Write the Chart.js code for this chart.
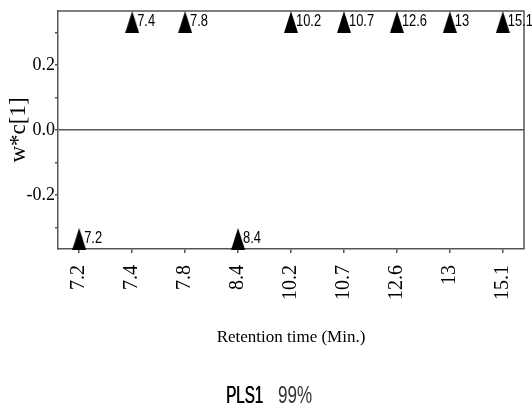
<!DOCTYPE html>
<html>
<head>
<meta charset="utf-8">
<script src="https://cdn.jsdelivr.net/npm/chart.js@4.4.1/dist/chart.umd.min.js"></script>
<style>
  html, body { margin: 0; padding: 0; background: #fff; }
  canvas { display: block; }
</style>
</head>
<body>
<canvas id="chart" width="532" height="418"></canvas>
<script>
// retention times (x categories, also used as point labels)
const retentionTimes = ['7.2', '7.4', '7.8', '8.4', '10.2', '10.7', '12.6', '13', '15.1'];
// w*c[1] loadings
const loadings = [-0.335, 0.332, 0.332, -0.335, 0.332, 0.332, 0.332, 0.332, 0.332];
// y ticks (every 0.1, only some are labelled)
const yTicks = [-0.3, -0.2, -0.1, 0, 0.1, 0.2, 0.3];
const yLabelled = [-0.2, 0, 0.2];
const footName = 'PLS1';
const footValue = '99%';

const serif = '"Liberation Serif", "Times New Roman", serif';
const sans = '"Liberation Sans", Arial, sans-serif';
const lineCol = '#555';

// draw text squeezed horizontally (the original looks condensed)
const narrowText = (ctx, text, x, y, sx) => {
  ctx.save();
  ctx.translate(x, y);
  ctx.scale(sx, 1);
  ctx.fillText(text, 0, 0);
  ctx.restore();
};

// tall black triangle used as point style
const tri = document.createElement('canvas');
tri.width = 14;
tri.height = 22;
const tctx = tri.getContext('2d');
tctx.fillStyle = '#000';
tctx.beginPath();
tctx.moveTo(7, 0);
tctx.lineTo(14, 22);
tctx.lineTo(0, 22);
tctx.closePath();
tctx.fill();

// top + right edge of the plot box
const framePlugin = {
  id: 'frame',
  beforeDatasetsDraw(chart) {
    const { ctx, chartArea: a } = chart;
    ctx.save();
    ctx.strokeStyle = lineCol;
    ctx.lineWidth = 1.5;
    ctx.beginPath();
    ctx.moveTo(a.left, a.top);
    ctx.lineTo(a.right, a.top);
    ctx.lineTo(a.right, a.bottom);
    ctx.stroke();
    ctx.restore();
  }
};

// label next to every triangle
const pointLabels = {
  id: 'pointLabels',
  afterDatasetsDraw(chart) {
    const { ctx } = chart;
    const meta = chart.getDatasetMeta(0);
    ctx.save();
    ctx.font = '17px ' + sans;
    ctx.fillStyle = '#000';
    ctx.textAlign = 'left';
    ctx.textBaseline = 'alphabetic';
    meta.data.forEach((pt, i) => {
      narrowText(ctx, retentionTimes[i], pt.x + 5, pt.y + 4, 0.76);
    });
    ctx.restore();
  }
};

// "PLS1  99%" caption under the chart
const footer = {
  id: 'footer',
  afterDraw(chart) {
    const { ctx, width, height } = chart;
    ctx.save();
    ctx.textBaseline = 'alphabetic';
    ctx.textAlign = 'left';
    ctx.font = '23px ' + sans;
    const s1 = 0.66, s2 = 0.74;
    const w1 = ctx.measureText(footName).width * s1;
    const w2 = ctx.measureText(footValue).width * s2;
    const gap = 15;
    const x = width / 2 + 3 - (w1 + gap + w2) / 2;
    const y = height - 15;
    ctx.fillStyle = '#000';
    narrowText(ctx, footName, x, y, s1);
    narrowText(ctx, footName, x + 0.5, y, s1); // a bit heavier
    ctx.fillStyle = '#333';
    narrowText(ctx, footValue, x + w1 + gap, y, s2);
    ctx.restore();
  }
};

new Chart(document.getElementById('chart'), {
  type: 'scatter',
  data: {
    datasets: [{
      data: loadings.map((v, i) => ({ x: i, y: v })),
      pointStyle: tri,
      pointRadius: 8,
      pointHoverRadius: 8,
      backgroundColor: '#000',
      borderWidth: 0,
      clip: false
    }]
  },
  options: {
    responsive: false,
    animation: false,
    layout: { padding: { top: 11, right: 3, bottom: 60, left: 0 } },
    plugins: {
      legend: { display: false },
      tooltip: { enabled: false }
    },
    scales: {
      x: {
        type: 'linear',
        min: -0.4,
        max: 8.4,
        afterBuildTicks: s => { s.ticks = retentionTimes.map((_, i) => ({ value: i })); },
        afterFit: s => { s.height = 109; s.paddingLeft = 0; s.paddingRight = 0; },
        grid: { drawOnChartArea: false, tickLength: 4, tickColor: lineCol, lineWidth: 1.5 },
        border: { color: lineCol, width: 1.5 },
        ticks: {
          minRotation: 90,
          maxRotation: 90,
          autoSkip: false,
          padding: 12,
          color: '#000',
          font: { family: serif, size: 20 },
          callback: v => retentionTimes[v]
        },
        title: {
          display: true,
          text: 'Retention time (Min.)',
          color: '#000',
          font: { family: serif, size: 17 },
          padding: { top: 0, bottom: 10 }
        }
      },
      y: {
        min: -0.366,
        max: 0.366,
        afterBuildTicks: s => { s.ticks = yTicks.map(v => ({ value: v })); },
        afterFit: s => { s.width = 58; s.paddingTop = 0; s.paddingBottom = 0; },
        grid: {
          color: c => (c.tick && c.tick.value === 0 ? lineCol : 'rgba(0,0,0,0)'),
          tickColor: lineCol,
          tickLength: 3,
          lineWidth: 1.5
        },
        border: { color: lineCol, width: 1.5 },
        ticks: {
          padding: 0,
          color: '#000',
          font: { family: serif, size: 18 },
          callback: v => (yLabelled.includes(v) ? v.toFixed(1) : '')
        },
        title: {
          display: true,
          text: 'w*c[1]',
          color: '#000',
          font: { family: serif, size: 23 },
          padding: { top: 5, bottom: 0 }
        }
      }
    }
  },
  plugins: [framePlugin, pointLabels, footer]
});
</script>
</body>
</html>
